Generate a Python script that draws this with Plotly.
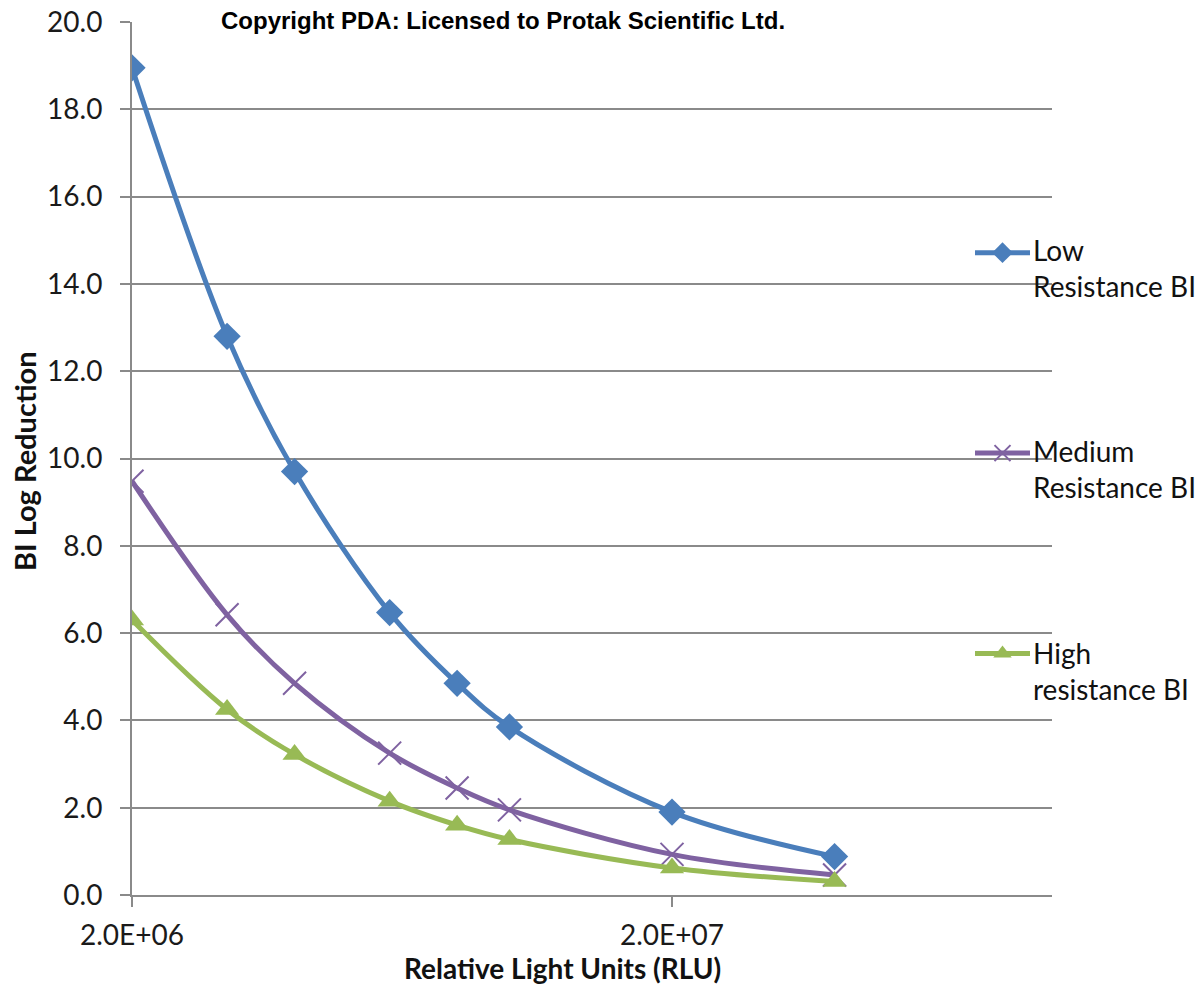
import math
import plotly.graph_objects as go

# Data
rlu = [2.0e6, 3.0e6, 4.0e6, 6.0e6, 8.0e6, 1.0e7, 2.0e7, 4.0e7]
low_resistance = [18.95, 12.8, 9.7, 6.47, 4.85, 3.85, 1.9, 0.88]
medium_resistance = [9.48, 6.42, 4.85, 3.25, 2.45, 1.95, 0.93, 0.46]
high_resistance = [6.3, 4.25, 3.22, 2.15, 1.6, 1.27, 0.62, 0.31]

series_names = ["Low Resistance BI", "Medium Resistance BI", "High resistance BI"]
legend_labels = ["Low<br>Resistance BI", "Medium<br>Resistance BI", "High<br>resistance BI"]
x_tickvals = [2.0e6, 2.0e7]
x_ticktext = ["2.0E+06", "2.0E+07"]
y_tickvals = [0, 2, 4, 6, 8, 10, 12, 14, 16, 18, 20]

colors = ["#4A7EBB", "#7F62A1", "#98BA55"]

fig = go.Figure()

fig.add_trace(go.Scatter(
    x=rlu, y=low_resistance, name=" ", legendgroup="a", hovertext=series_names[0],
    mode="lines+markers",
    line=dict(color=colors[0], width=5, shape="spline", smoothing=1),
    marker=dict(symbol="diamond", size=21, color=colors[0]),
))
fig.add_trace(go.Scatter(
    x=rlu, y=medium_resistance, name=" ", legendgroup="b", hovertext=series_names[1],
    mode="lines+markers",
    line=dict(color=colors[1], width=5, shape="spline", smoothing=1),
    marker=dict(symbol="x-thin", size=23, color=colors[1],
                line=dict(color=colors[1], width=2)),
))
fig.add_trace(go.Scatter(
    x=rlu, y=high_resistance, name=" ", legendgroup="c", hovertext=series_names[2],
    mode="lines+markers",
    line=dict(color=colors[2], width=5, shape="spline", smoothing=1),
    marker=dict(symbol="triangle-up", size=21, color=colors[2]),
))

x_min = math.log10(2.0e6)
x_max = x_min + 920.0 / 540.0

# page has an 8px body margin, so the figure is 16px smaller than the window
FIG_OFF = 8
PLOT_L, PLOT_T, PLOT_W, PLOT_H = 132 - FIG_OFF, 22 - FIG_OFF, 920, 873


def px_x(page_x):
    return (page_x - FIG_OFF - PLOT_L) / PLOT_W


def px_y(page_y):
    return 1 - (page_y - FIG_OFF - PLOT_T) / PLOT_H


legend_text_y = [249, 450, 652]
annotations = [
    dict(
        text="<b>Copyright PDA: Licensed to Protak Scientific Ltd.</b>",
        xref="paper", yref="paper", x=px_x(503), y=px_y(20),
        xanchor="center", yanchor="middle", showarrow=False, borderpad=0,
        font=dict(family="Liberation Sans, Arial", size=24, color="black"),
    ),
    dict(
        text="<b>Relative Light Units (RLU)</b>",
        xref="paper", yref="paper", x=px_x(562), y=px_y(968),
        xanchor="center", yanchor="middle", showarrow=False, borderpad=0,
        font=dict(family="Lato, Open Sans, sans-serif", size=28, color="#111111"),
    ),
    dict(
        text="<b>BI Log Reduction</b>",
        xref="paper", yref="paper", x=px_x(24), y=px_y(461),
        xanchor="center", yanchor="middle", showarrow=False, borderpad=0,
        textangle=-90,
        font=dict(family="Lato, Open Sans, sans-serif", size=29, color="#111111"),
    ),
]
for label, ty in zip(legend_labels, legend_text_y):
    annotations.append(dict(
        text=label, xref="paper", yref="paper", x=px_x(1031), y=px_y(ty - 18),
        xanchor="left", yanchor="top", align="left", showarrow=False,
        font=dict(family="Lato, Open Sans, sans-serif", size=28, color="#111111"),
    ))

fig.update_layout(
    width=1188, height=977,
    margin=dict(l=PLOT_L, r=1188 - PLOT_L - PLOT_W, t=PLOT_T, b=977 - PLOT_T - PLOT_H),
    paper_bgcolor="white", plot_bgcolor="white",
    font=dict(family="Lato, Open Sans, sans-serif", size=28, color="#1a1a1a"),
    showlegend=True,
    legend=dict(
        x=px_x(970), y=px_y(228), xanchor="left", yanchor="top",
        bgcolor="rgba(255,255,255,0)",
        font=dict(family="Lato, Open Sans, sans-serif", size=28, color="#111111"),
        tracegroupgap=161, itemwidth=55,
    ),
    xaxis=dict(
        type="log", range=[x_min, x_max], automargin=False,
        tickvals=x_tickvals, ticktext=x_ticktext,
        showgrid=False, showline=True, linecolor="#8a8a8a", linewidth=2,
        ticks="outside", ticklen=10, tickcolor="#8a8a8a", tickwidth=2,
        tickfont=dict(size=28, color="#1a1a1a"),
        ticklabelstandoff=4, ticklabeloverflow="allow",
        zeroline=False,
    ),
    yaxis=dict(
        range=[0, 20], tickvals=y_tickvals, tickformat=".1f", automargin=False,
        showgrid=True, gridcolor="#8a8a8a", gridwidth=2,
        showline=True, linecolor="#8a8a8a", linewidth=2,
        ticks="outside", ticklen=10, tickcolor="#8a8a8a", tickwidth=2,
        tickfont=dict(size=28, color="#1a1a1a"),
        ticklabelstandoff=12, ticklabeloverflow="allow",
        zeroline=False,
    ),
    annotations=annotations,
)

fig.write_html("out.html")
